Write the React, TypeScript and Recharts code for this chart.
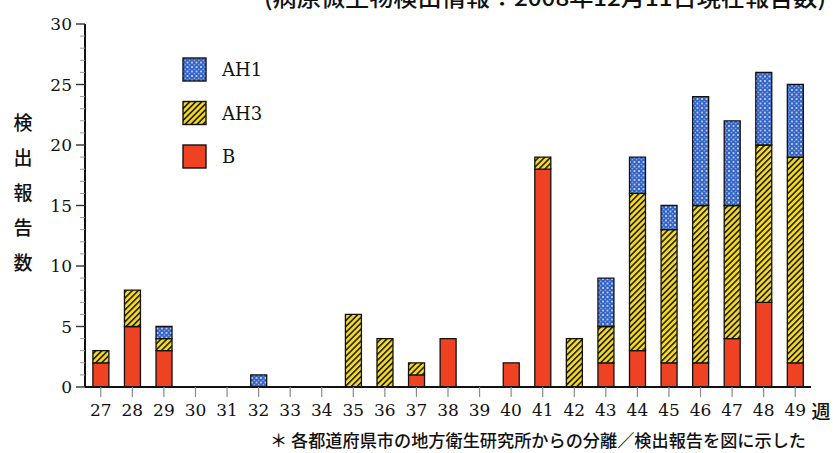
import React from "react";
import { BarChart, Bar, XAxis, YAxis } from "recharts";

// 週別の検出報告数
const weeks = ["27", "28", "29", "30", "31", "32", "33", "34", "35", "36", "37", "38", "39", "40", "41", "42", "43", "44", "45", "46", "47", "48", "49"];
const typeB = [2, 5, 3, 0, 0, 0, 0, 0, 0, 0, 1, 4, 0, 2, 18, 0, 2, 3, 2, 2, 4, 7, 2];
const ah3 = [1, 3, 1, 0, 0, 0, 0, 0, 6, 4, 1, 0, 0, 0, 1, 4, 3, 13, 11, 13, 11, 13, 17];
const ah1 = [0, 0, 1, 0, 0, 1, 0, 0, 0, 0, 0, 0, 0, 0, 0, 0, 4, 3, 2, 9, 7, 6, 6];
const yTicks = Array.from({ length: 31 }, (_, i) => i);

const data = weeks.map((week, i) => ({
  week,
  B: typeB[i],
  AH3: ah3[i],
  AH1: ah1[i],
}));

const SERIF = "DejaVu Serif";
const CJK = "Noto Sans CJK JP";

const RED = "#ee4223";
const YELLOW = "#f6da1c";
const BLUE = "#3263c6";

function Patterns({ suffix }: { suffix: string }) {
  return (
    <defs>
      <pattern id={`ah1${suffix}`} width="4.5" height="4.5" patternUnits="userSpaceOnUse">
        <rect width="4.5" height="4.5" fill={BLUE} />
        <circle cx="0" cy="0" r="0.85" fill="#fff" />
        <circle cx="4.5" cy="0" r="0.85" fill="#fff" />
        <circle cx="0" cy="4.5" r="0.85" fill="#fff" />
        <circle cx="4.5" cy="4.5" r="0.85" fill="#fff" />
        <circle cx="2.25" cy="2.25" r="0.7" fill="#c9d8ff" />
      </pattern>
      <pattern
        id={`ah3${suffix}`}
        width="4.2"
        height="4.2"
        patternUnits="userSpaceOnUse"
        patternTransform="rotate(45)"
      >
        <rect width="4.2" height="4.2" fill={YELLOW} />
        <line x1="0.8" y1="0" x2="0.8" y2="4.2" stroke="#111" strokeWidth="1.5" />
      </pattern>
    </defs>
  );
}

const legendItems = [
  { label: "AH1", fill: "url(#ah1L)" },
  { label: "AH3", fill: "url(#ah3L)" },
  { label: "B", fill: RED },
];

function YTick(props: any) {
  const { x, y, payload } = props;
  const v = payload.value as number;
  if (v % 5 !== 0) {
    return <line x1={x - 5} x2={x} y1={y} y2={y} stroke="#9a9a9a" strokeWidth={1} />;
  }
  return (
    <g>
      <line x1={x - 9} x2={x} y1={y} y2={y} stroke="#333" strokeWidth={1.4} />
      <text x={x - 13} y={y} dy="0.36em" textAnchor="end" fontFamily={SERIF} fontSize={17} fill="#111">
        {v}
      </text>
    </g>
  );
}

const yLabel = ["検", "出", "報", "告", "数"];

export default function App() {
  return (
    <div style={{ position: "absolute", left: 0, top: 0, width: 833, height: 453, background: "#fff" }}>
      <BarChart
        width={833}
        height={453}
        data={data}
        margin={{ top: 24, right: 22, bottom: 36, left: 0 }}
        barCategoryGap="25%"
      >
        <Patterns suffix="" />
        <XAxis
          dataKey="week"
          interval={0}
          height={30}
          tickSize={10}
          tickMargin={7}
          axisLine={{ stroke: "#111", strokeWidth: 2 }}
          tickLine={{ stroke: "#8a8a8a", strokeWidth: 1.2 }}
          tick={{ fill: "#111", fontSize: 17, fontFamily: SERIF }}
        />
        <YAxis
          width={85}
          domain={[0, 30]}
          ticks={yTicks}
          interval={0}
          tickSize={0}
          tickMargin={0}
          tickLine={false}
          axisLine={{ stroke: "#111", strokeWidth: 2 }}
          tick={<YTick />}
        />
        <Bar dataKey="B" stackId="s" fill={RED} stroke="#111" strokeWidth={1.3} isAnimationActive={false} />
        <Bar dataKey="AH3" stackId="s" fill="url(#ah3)" stroke="#111" strokeWidth={1.3} isAnimationActive={false} />
        <Bar dataKey="AH1" stackId="s" fill="url(#ah1)" stroke="#111" strokeWidth={1.3} isAnimationActive={false} />
      </BarChart>
      <svg
        width={833}
        height={453}
        style={{ position: "absolute", left: 0, top: 0, pointerEvents: "none" }}
      >
        <Patterns suffix="L" />
        <text
          x={264}
          y={6}
          fontFamily={CJK}
          fontWeight={500}
          fontSize={22}
          fill="#111"
          textLength={562}
          lengthAdjust="spacingAndGlyphs"
        >
          (病原微生物検出情報：2008年12月11日現在報告数)
        </text>
        {legendItems.map((it, i) => (
          <g key={it.label} transform={`translate(183, ${58 + i * 43.5})`}>
            <rect width={23} height={23} fill={it.fill} stroke="#111" strokeWidth={1.4} />
            <text x={39} y={12} dy="0.36em" fontFamily={SERIF} fontSize={18} fill="#111">
              {it.label}
            </text>
          </g>
        ))}
        {yLabel.map((c, i) => (
          <text
            key={c}
            x={23}
            y={123 + i * 35}
            dy="0.36em"
            textAnchor="middle"
            fontFamily={CJK}
            fontWeight={500}
            fontSize={19}
            fill="#111"
          >
            {c}
          </text>
        ))}
        <text x={821} y={412} dy="0.36em" textAnchor="middle" fontFamily={CJK} fontWeight={500} fontSize={19} fill="#111">
          週
        </text>
        <text
          x={270}
          y={441}
          dy="0.36em"
          fontFamily={CJK}
          fontWeight={500}
          fontSize={17.5}
          fill="#111"
          textLength={536}
          lengthAdjust="spacingAndGlyphs"
        >
          ＊ 各都道府県市の地方衛生研究所からの分離／検出報告を図に示した
        </text>
      </svg>
    </div>
  );
}
